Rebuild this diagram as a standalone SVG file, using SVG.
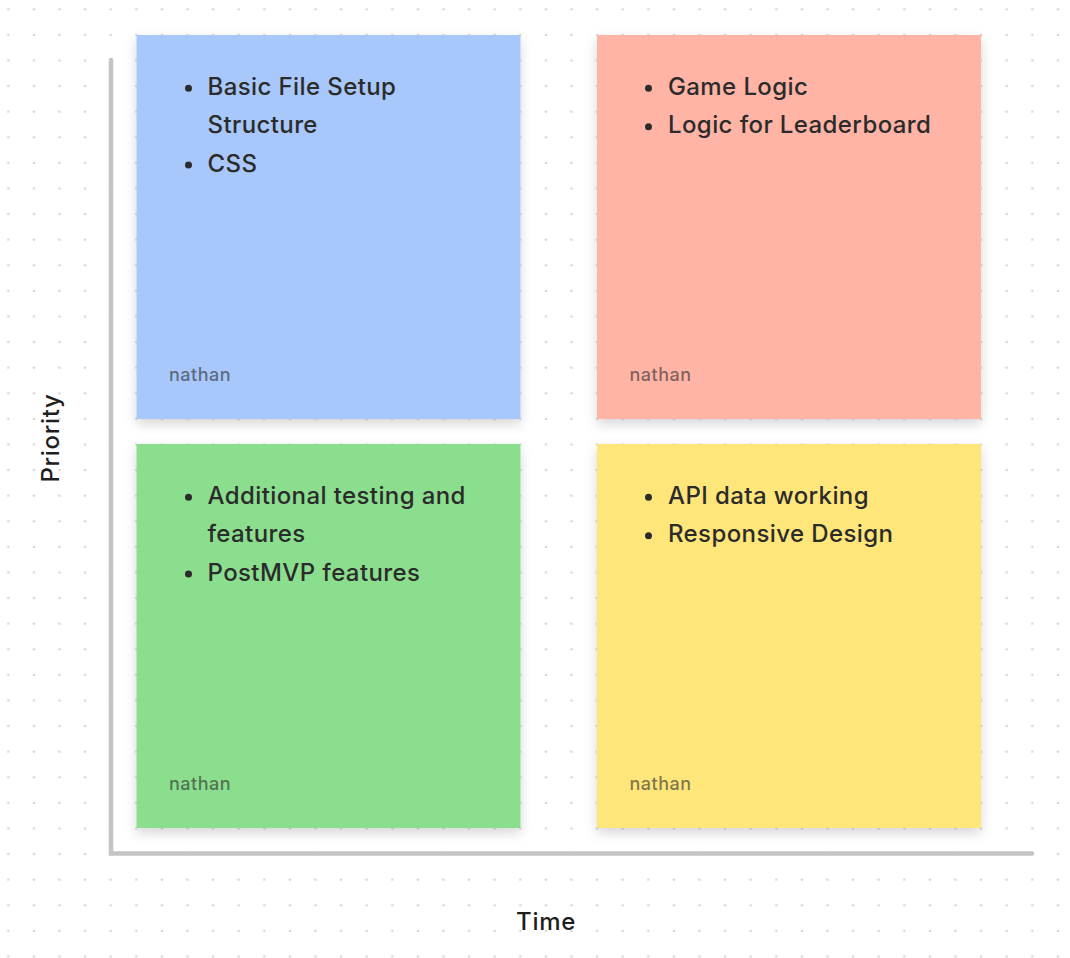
<svg xmlns="http://www.w3.org/2000/svg" width="1070" height="958" viewBox="0 0 1070 958">
  <style>
    .item { font-family: Inter, "Noto Sans", "Liberation Sans", sans-serif; font-size: 24px; font-weight: 450; letter-spacing: 0.4px; fill: #2b2b2b; }
    .author { font-family: Inter, "Noto Sans", "Liberation Sans", sans-serif; font-size: 18px; font-weight: 450; letter-spacing: 0.5px; fill: #2b2b2b; fill-opacity: 0.62; }
    .axislabel { font-family: Inter, "Noto Sans", "Liberation Sans", sans-serif; font-size: 24px; font-weight: 450; letter-spacing: 0.7px; fill: #1e1e1e; }
    .bullet { fill: #2b2b2b; }
    .note { filter: url(#shadow); }
  </style>
  <defs>
    <pattern id="dots" patternUnits="userSpaceOnUse" x="-4.5" y="-3.5" width="25.6" height="25.6">
      <circle cx="12.8" cy="12.8" r="1.3" fill="#d6d6d6"/>
    </pattern>
    <filter id="shadow" x="-10%" y="-10%" width="120%" height="125%">
      <feDropShadow dx="0" dy="5" stdDeviation="6" flood-color="#000000" flood-opacity="0.16"/>
    </filter>
  </defs>

  <rect width="1070" height="958" fill="#ffffff"/>
  <rect width="1070" height="958" fill="url(#dots)"/>

  <g id="connectors">
    <polyline points="111,60 111,853.5 1032,853.5" fill="none" stroke="#c4c4c4" stroke-width="4.5" stroke-linecap="round" stroke-linejoin="miter"/>
  </g>

  <g id="label-priority">
    <text class="axislabel" transform="translate(59,438) rotate(-90)" text-anchor="middle">Priority</text>
  </g>
  <g id="label-time">
    <text class="axislabel" x="546" y="930" text-anchor="middle">Time</text>
  </g>

  <g id="note-blue">
    <rect class="note" x="136.5" y="35" width="384" height="384" fill="#a8c7fa"/>
    <circle class="bullet" cx="188.5" cy="88.3" r="3.5"/>
    <text class="item" x="207.5" y="95">Basic File Setup</text>
    <text class="item" x="207.5" y="133.4">Structure</text>
    <circle class="bullet" cx="188.5" cy="165.1" r="3.5"/>
    <text class="item" x="207.5" y="171.8">CSS</text>
    <text class="author" x="169" y="381">nathan</text>
  </g>

  <g id="note-red">
    <rect class="note" x="597" y="35" width="384" height="384" fill="#ffb4a6"/>
    <circle class="bullet" cx="648.5" cy="88.3" r="3.5"/>
    <text class="item" x="668" y="95">Game Logic</text>
    <circle class="bullet" cx="648.5" cy="126.7" r="3.5"/>
    <text class="item" x="668" y="133.4">Logic for Leaderboard</text>
    <text class="author" x="629.5" y="381">nathan</text>
  </g>

  <g id="note-green">
    <rect class="note" x="136.5" y="444" width="384" height="384" fill="#8cde8f"/>
    <circle class="bullet" cx="188.5" cy="497.3" r="3.5"/>
    <text class="item" x="207.5" y="504">Additional testing and</text>
    <text class="item" x="207.5" y="542.4">features</text>
    <circle class="bullet" cx="188.5" cy="574.1" r="3.5"/>
    <text class="item" x="207.5" y="580.8">PostMVP features</text>
    <text class="author" x="169" y="790">nathan</text>
  </g>

  <g id="note-yellow">
    <rect class="note" x="597" y="444" width="384" height="384" fill="#ffe67a"/>
    <circle class="bullet" cx="648.5" cy="497.3" r="3.5"/>
    <text class="item" x="668" y="504">API data working</text>
    <circle class="bullet" cx="648.5" cy="535.7" r="3.5"/>
    <text class="item" x="668" y="542.4">Responsive Design</text>
    <text class="author" x="629.5" y="790">nathan</text>
  </g>
</svg>
